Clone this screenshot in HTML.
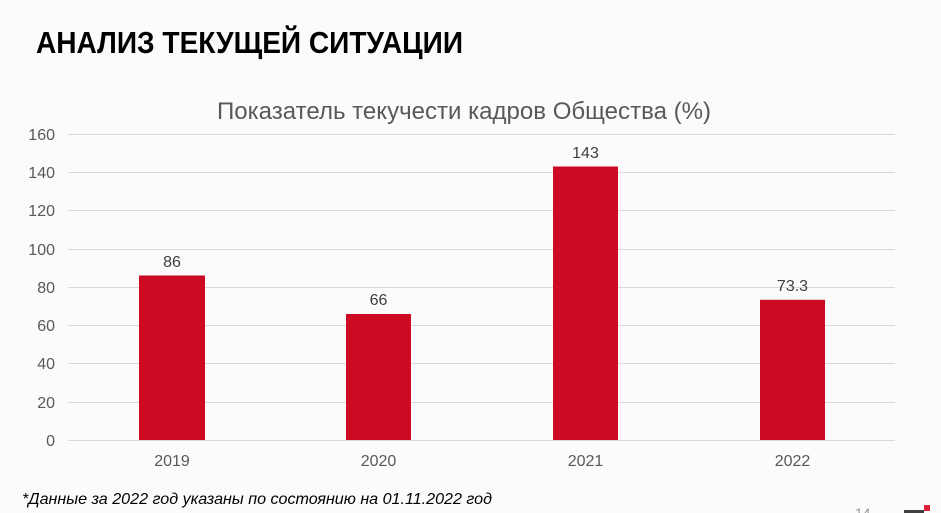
<!DOCTYPE html>
<html><head><meta charset="utf-8"><style>
html,body{margin:0;padding:0;background:#fcfafb;}
svg{display:block;font-family:"Liberation Sans",Arial,sans-serif;}
</style></head><body>
<svg width="941" height="513" viewBox="0 0 941 513" xmlns="http://www.w3.org/2000/svg">
<rect width="941" height="513" fill="#fcfafb"/>
<text x="36" y="53" font-size="31" font-weight="bold" fill="#000" textLength="427" lengthAdjust="spacingAndGlyphs">АНАЛИЗ ТЕКУЩЕЙ СИТУАЦИИ</text>
<text x="464" y="119" font-size="24" fill="#595959" text-anchor="middle" textLength="494" lengthAdjust="spacingAndGlyphs">Показатель текучести кадров Общества (%)</text>
<g stroke="#d9d9d9" stroke-width="1">
<line x1="68" x2="895" y1="134.5" y2="134.5"/>
<line x1="68" x2="895" y1="172.5" y2="172.5"/>
<line x1="68" x2="895" y1="210.5" y2="210.5"/>
<line x1="68" x2="895" y1="249.5" y2="249.5"/>
<line x1="68" x2="895" y1="287.5" y2="287.5"/>
<line x1="68" x2="895" y1="325.5" y2="325.5"/>
<line x1="68" x2="895" y1="363.5" y2="363.5"/>
<line x1="68" x2="895" y1="402.5" y2="402.5"/>
<line x1="68" x2="895" y1="440.5" y2="440.5"/>
</g>
<g font-size="16" fill="#595959" text-anchor="end">
<text x="55" y="140">160</text>
<text x="55" y="178">140</text>
<text x="55" y="216">120</text>
<text x="55" y="255">100</text>
<text x="55" y="293">80</text>
<text x="55" y="331">60</text>
<text x="55" y="369">40</text>
<text x="55" y="408">20</text>
<text x="55" y="446">0</text>
</g>
<g fill="#cc0a24">
<rect x="139" y="275.5" width="66" height="164.5"/>
<rect x="346" y="314" width="65" height="126"/>
<rect x="553" y="166.5" width="65" height="273.5"/>
<rect x="760" y="299.8" width="65" height="140.2"/>
</g>
<g font-size="16" fill="#404040" text-anchor="middle">
<text x="172" y="267">86</text>
<text x="378.5" y="305">66</text>
<text x="585.5" y="158">143</text>
<text x="792.5" y="291">73.3</text>
</g>
<g font-size="16" fill="#595959" text-anchor="middle">
<text x="172" y="466">2019</text>
<text x="378.5" y="466">2020</text>
<text x="585.5" y="466">2021</text>
<text x="792.5" y="466">2022</text>
</g>
<text x="22" y="504" font-size="16" font-style="italic" fill="#000" textLength="470" lengthAdjust="spacingAndGlyphs">*Данные за 2022 год указаны по состоянию на 01.11.2022 год</text>
<text x="855" y="518" font-size="14" fill="#999">14</text>
<rect x="904" y="510" width="20" height="3" fill="#404040"/>
<rect x="924" y="505" width="6" height="6" fill="#e0203a"/>
</svg>
</body></html>
